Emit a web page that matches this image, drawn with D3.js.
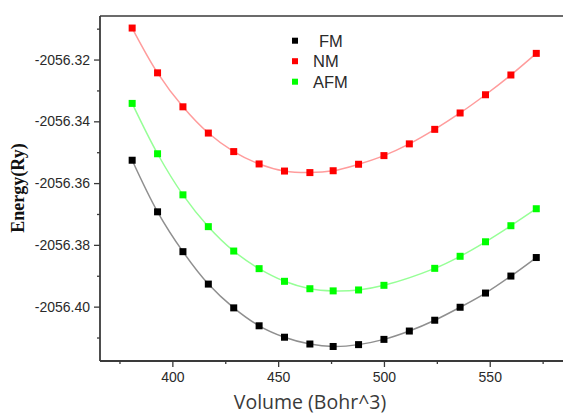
<!DOCTYPE html>
<html>
<head>
<meta charset="utf-8">
<script src="https://cdn.jsdelivr.net/npm/d3@7"></script>
<style>
  html, body { margin: 0; padding: 0; background: #fff; }
  svg { display: block; }
</style>
</head>
<body>
<svg id="chart" width="563" height="414"></svg>
<script>
// ---- data ----
const seriesNames = ["FM", "NM", "AFM"];
const volumeFM  = [381, 393, 405, 417, 429, 441, 453, 465, 476, 488, 500, 512, 524, 536, 548, 560, 572];
const energyFM  = [-2056.3526, -2056.3693, -2056.3822, -2056.3927, -2056.4004, -2056.4062, -2056.4099, -2056.4121, -2056.4129, -2056.4123, -2056.4106, -2056.4079, -2056.4044, -2056.4002, -2056.3956, -2056.3901, -2056.3841];
const volumeNM  = [381, 393, 405, 417, 429, 441, 453, 465, 476, 488, 500, 512, 524, 536, 548, 560, 572];
const energyNM  = [-2056.3098, -2056.3243, -2056.3353, -2056.3438, -2056.3498, -2056.3538, -2056.3561, -2056.3566, -2056.3560, -2056.3539, -2056.3511, -2056.3473, -2056.3426, -2056.3373, -2056.3314, -2056.3250, -2056.3180];
const volumeAFM = [381, 393, 405, 417, 429, 441, 453, 465, 476, 488, 500, 524, 536, 548, 560, 572];
const energyAFM = [-2056.3342, -2056.3505, -2056.3638, -2056.3741, -2056.3820, -2056.3877, -2056.3918, -2056.3942, -2056.3949, -2056.3946, -2056.3931, -2056.3876, -2056.3837, -2056.3790, -2056.3738, -2056.3683];

const xMajorTicks = [400, 450, 500, 550];
const xMinorTicks = [375, 425, 475, 525, 575];
const yMajorTicks = [-2056.40, -2056.38, -2056.36, -2056.34, -2056.32];
const yMinorTicks = [-2056.41, -2056.39, -2056.37, -2056.35, -2056.33, -2056.31];
const xTitle = "Volume (Bohr^3)";
const yTitle = "Energy(Ry)";

// ---- layout ----
const svg = d3.select("#chart");
const L = 100, T = 16, B = 361;
const x = d3.scaleLinear().domain([365.8, 592]).range([L, 578.6]);
const y = d3.scaleLinear().domain([-2056.4176, -2056.3059]).range([B, T]);

const colors = { FM: "#000000", NM: "#ff0000", AFM: "#00ff00" };
const lineColors = { FM: "#8f8f8f", NM: "#ff9c9c", AFM: "#96ff96" };

const series = [
  { name: "FM",  vols: volumeFM,  vals: energyFM },
  { name: "NM",  vols: volumeNM,  vals: energyNM },
  { name: "AFM", vols: volumeAFM, vals: energyAFM }
];

// frame top
svg.append("line").attr("x1", L).attr("x2", 600).attr("y1", T).attr("y2", T)
  .attr("stroke", "#3a3a3a").attr("stroke-width", 1.6);

// y axis
const yAxis = d3.axisLeft(y).tickValues(yMajorTicks).tickSize(6).tickPadding(4)
  .tickFormat(d => d.toFixed(2));
const gy = svg.append("g").attr("transform", `translate(${L},0)`).call(yAxis);
const gyMinor = svg.append("g").attr("transform", `translate(${L},0)`)
  .call(d3.axisLeft(y).tickValues(yMinorTicks).tickSize(3).tickFormat(""));
gyMinor.select(".domain").remove();

// x axis
const xAxis = d3.axisBottom(x).tickValues(xMajorTicks).tickSize(6).tickPadding(5);
const gx = svg.append("g").attr("transform", `translate(0,${B})`).call(xAxis);
const gxMinor = svg.append("g").attr("transform", `translate(0,${B})`)
  .call(d3.axisBottom(x).tickValues(xMinorTicks).tickSize(3).tickFormat(""));
gxMinor.select(".domain").remove();

[gy, gx, gyMinor, gxMinor].forEach(g => {
  g.selectAll(".domain").attr("stroke", "#3a3a3a").attr("stroke-width", 1.8);
  g.selectAll(".tick line").attr("stroke", "#3a3a3a").attr("stroke-width", 1.3);
  g.selectAll("text").attr("fill", "#2a2a2a")
    .style("font-family", "'Liberation Sans', Arial, sans-serif").style("font-size", "14px");
});
gy.select(".domain").attr("d", `M0,${B}V${T}`);
gx.select(".domain").attr("d", `M${L},0H600`);

// lines and markers
const line = d3.line().x(d => x(d[0])).y(d => y(d[1])).curve(d3.curveCatmullRom.alpha(0.5));
const plotOrder = ["FM", "AFM", "NM"];
plotOrder.forEach(n => {
  const s = series.find(q => q.name === n);
  const pts = s.vols.map((v, i) => [v, s.vals[i]]);
  svg.append("path").datum(pts).attr("d", line)
    .attr("fill", "none").attr("stroke", lineColors[n]).attr("stroke-width", 1.5);
  svg.append("g").selectAll("rect").data(pts).join("rect")
    .attr("x", d => x(d[0]) - 3.5).attr("y", d => y(d[1]) - 3.5)
    .attr("width", 7).attr("height", 7).attr("fill", colors[n]);
});

// legend
const lg = svg.append("g");
seriesNames.forEach((n, i) => {
  const cy = 40.7 + i * 20.5;
  lg.append("rect").attr("x", 292).attr("y", cy - 3).attr("width", 6).attr("height", 6).attr("fill", colors[n]);
  lg.append("text").attr("x", n === "FM" ? 319 : 313).attr("y", cy).attr("dy", "0.36em")
    .attr("fill", "#2a2a2a")
    .style("font-family", "'Liberation Sans', Arial, sans-serif").style("font-size", "16.5px")
    .text(n);
});

// axis titles
svg.append("text").attr("x", 310).attr("y", 409).attr("text-anchor", "middle")
  .attr("fill", "#3a3a3a")
  .style("font-family", "'Open Sans', 'Liberation Sans', sans-serif").style("font-size", "19.5px")
  .text(xTitle);
svg.append("text").attr("transform", "translate(24,188) rotate(-90)").attr("text-anchor", "middle")
  .attr("fill", "#111")
  .style("font-family", "'Liberation Serif', 'Times New Roman', serif").style("font-size", "18px")
  .style("font-weight", "bold")
  .text(yTitle);
</script>
</body>
</html>
